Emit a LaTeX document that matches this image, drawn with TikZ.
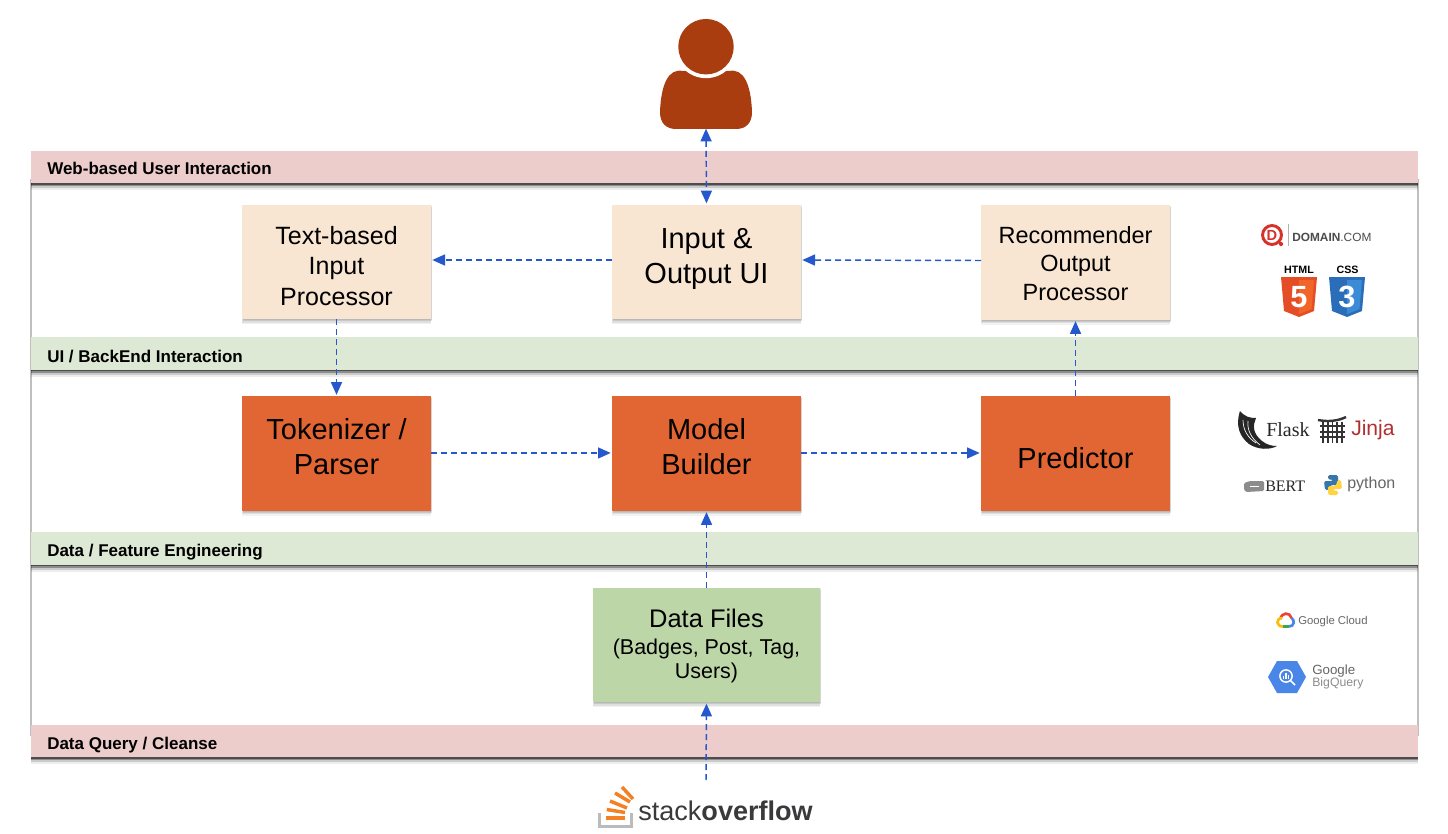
\documentclass[tikz,border=0pt]{standalone}
\usepackage{fontspec}
\setmainfont{Liberation Sans}
\newfontfamily\serifface{Liberation Serif}
\usetikzlibrary{arrows.meta}
\definecolor{bandpink}{HTML}{ECCDCB}
\definecolor{bandgreen}{HTML}{DDE8D5}
\definecolor{beige}{HTML}{F9E6D2}
\definecolor{orangebox}{HTML}{E26633}
\definecolor{datagreen}{HTML}{BDD6A8}
\definecolor{userbrown}{HTML}{A93D10}
\definecolor{flow}{HTML}{2458CC}
\definecolor{logogray}{HTML}{666666}
\definecolor{sooverflow}{HTML}{F48024}
\definecolor{gblue}{HTML}{4A86E8}
\definecolor{domred}{HTML}{D5322C}
\definecolor{htmla}{HTML}{E44D26}
\definecolor{htmlb}{HTML}{F16529}
\definecolor{cssa}{HTML}{2A6DB8}
\definecolor{cssb}{HTML}{3B8BD6}
\definecolor{jinjared}{HTML}{B03030}
\definecolor{pyblue}{HTML}{3776AB}
\definecolor{pyyellow}{HTML}{FFD343}
\definecolor{gred}{HTML}{EA4335}
\definecolor{ggreen}{HTML}{34A853}
\definecolor{gyellow}{HTML}{FBBC05}
\definecolor{sogray}{HTML}{BCBBBB}
\definecolor{sodark}{HTML}{3A3A3C}
\newcommand\boxlines[2]{\raisebox{#1}[0pt][0pt]{\begin{tabular}{@{}c@{}}#2\end{tabular}}}
\tikzset{
  x=0.75pt,y=-0.75pt,
  softbox/.style={inner sep=0pt,outer sep=0pt,text=black,
    preaction={fill=black,opacity=.07,transform canvas={xshift=.5pt,yshift=-.5pt}},
    preaction={fill=black,opacity=.10,transform canvas={xshift=.5pt,yshift=-1.5pt}},
    preaction={fill=black,opacity=.08,transform canvas={xshift=.3pt,yshift=-2.5pt}},
    preaction={fill=black,opacity=.05,transform canvas={yshift=-3.5pt}}},
  stdbox/.style={softbox,minimum width=141.75pt,minimum height=86pt},
  lightbox/.style={stdbox,fill=beige},
  hotbox/.style={stdbox,fill=orangebox},
  band/.style={inner sep=0pt,outer sep=0pt,minimum width=1040.25pt,minimum height=24.4pt,
    preaction={fill=black,opacity=.45,transform canvas={yshift=-1.2pt}},
    preaction={fill=black,opacity=.30,transform canvas={yshift=-2.4pt}},
    preaction={fill=black,opacity=.14,transform canvas={yshift=-3.8pt}},
    preaction={fill=black,opacity=.07,transform canvas={yshift=-5.4pt}}},
  bandtext/.style={inner sep=0pt,anchor=base west,font=\fontsize{12.75}{15}\selectfont\bfseries},
  link/.style={draw=flow,line width=1.1pt,dash pattern=on 4.5pt off 3pt,
    -{Triangle[width=8.25pt,length=9.5pt]},shorten >=1pt},
  logotext/.style={inner sep=0pt,anchor=west,text=logogray},
  fs25/.style={font=\fontsize{18.75}{22.9}\selectfont},
  fs29/.style={font=\fontsize{21.75}{26}\selectfont},
  fs23/.style={font=\fontsize{17.6}{21.4}\selectfont},
  sobar/.style={draw=sooverflow,line width=2.6pt},
}
\begin{document}
\begin{tikzpicture}
\useasboundingbox (0,0) rectangle (1448,834);
\fill[white] (0,0) rectangle (1448,834);
% panel
\node[draw=black!25,line width=1.4pt,fill=white,inner sep=0pt,minimum width=1040.25pt,minimum height=416.25pt] (panel) at (724.5,457.5) {};
% bands
\node[band,fill=bandpink] (b1) at (724.5,167) {};
\node[band,fill=bandgreen] (b2) at (724.5,353.5) {};
\node[band,fill=bandgreen] (b3) at (724.5,548.5) {};
\node[band,fill=bandpink] (b4) at (724.5,741) {};
\node[bandtext] (t1) at (47,174.5) {Web-based User Interaction};
\node[bandtext] (t2) at (47,362.5) {UI / BackEnd Interaction};
\node[bandtext] (t3) at (47,556.5) {Data / Feature Engineering};
\node[bandtext] (t4) at (47,749.5) {Data Query / Cleanse};
% user
\node[inner sep=0pt,outer sep=0pt,minimum width=69pt,minimum height=82pt] (user) at (706,74) {};
\fill[userbrown] (683,71) .. controls (668,68) and (661,85) .. (660,112)
  .. controls (660,123) and (666,129) .. (676,129) -- (736,129)
  .. controls (746,129) and (752,123) .. (752,112)
  .. controls (751,85) and (744,68) .. (729,71) -- cycle;
\fill[white] (706,46.7) circle[radius=23.6pt];
\fill[userbrown] (706,46.7) circle[radius=20.8pt];
% boxes
\node[lightbox,fs25] (textin) at (336.5,262) {\boxlines{-9.2pt}{Text-based\\Input\\Processor}};
\node[lightbox,fs29] (io) at (706.5,262) {\boxlines{-2.8pt}{Input \&\\Output UI}};
\node[lightbox,fs23] (recout) at (1075.5,262.5) {\boxlines{-7.1pt}{Recommender\\Output\\Processor}};
\node[hotbox,fs29] (token) at (336.5,453.5) {\boxlines{-2.45pt}{Tokenizer /\\Parser}};
\node[hotbox,fs29] (model) at (706.5,453.5) {\boxlines{-2.45pt}{Model\\Builder}};
\node[hotbox,fs29] (pred) at (1075.5,453.5) {\boxlines{-11.1pt}{Predictor}};
\node[softbox,fill=datagreen,minimum width=170.25pt,minimum height=86pt,font=\fontsize{16.1}{18}\selectfont] (data) at (706.5,645)
  {\boxlines{-6.3pt}{{\fontsize{19.1}{22}\selectfont Data Files}\\[2.5pt](Badges, Post, Tag,\\Users)}};
% connectors
\coordinate (sotop) at (706,780);
\draw[link,{Triangle[width=8.25pt,length=9.5pt]}-{Triangle[width=8.25pt,length=9.5pt]}] (user.south) -- (io.north);
\draw[link] ([yshift=1.5pt]io.west) -- ([yshift=1.5pt]textin.east);
\draw[link] ([yshift=1.5pt]recout.west) -- ([yshift=1.5pt]io.east);
\draw[link] (textin.south) -- (token.north);
\draw[link] (pred.north) -- (recout.south);
\draw[link] ([yshift=.4pt]token.east) -- ([yshift=.4pt]model.west);
\draw[link] ([yshift=.4pt]model.east) -- ([yshift=.4pt]pred.west);
\draw[link] (data.north) -- (model.south);
\draw[link] (sotop) -- (data.south);
% Domain.com
\draw[domred,line width=2.2pt] (1272,235) circle[radius=7.1pt];
\fill[domred] (1281,244) circle[radius=1.6pt];
\node[inner sep=0pt,text=domred,font=\fontsize{11}{11}\selectfont\bfseries] (domd) at (1272,235.5) {D};
\draw[black!30,line width=0.7pt] (1288,224) -- (1288,246);
\node[logotext,text=black!70,font=\fontsize{8.9}{10}\selectfont] (domt) at (1292,237) {\textbf{DOMAIN}.COM};
% HTML5
\node[inner sep=0pt,font=\fontsize{8}{8}\selectfont\bfseries] (htmlt) at (1299,270) {HTML};
\fill[htmla] (1281,277) -- (1317,277) -- (1314,311) -- (1299,317) -- (1284,311) -- cycle;
\fill[htmlb] (1299,280) -- (1314,280) -- (1311.5,309) -- (1299,314) -- cycle;
\node[inner sep=0pt,text=white,font=\fontsize{23}{23}\selectfont\bfseries] (html5) at (1299,297) {5};
% CSS3
\node[inner sep=0pt,font=\fontsize{8}{8}\selectfont\bfseries] (csst) at (1347.5,270) {CSS};
\fill[cssa] (1329,277) -- (1365,277) -- (1362,311) -- (1347,317) -- (1332,311) -- cycle;
\fill[cssb] (1347,280) -- (1362,280) -- (1359.5,309) -- (1347,314) -- cycle;
\node[inner sep=0pt,text=white,font=\fontsize{23}{23}\selectfont\bfseries] (css3) at (1347,297) {3};
% Flask
\fill[black!85] (1240,411) .. controls (1245,417) and (1250,418) .. (1256,418)
  .. controls (1253,425) and (1252,433) .. (1262,441)
  .. controls (1267,445) and (1272,446) .. (1277,446)
  .. controls (1270,450) and (1258,450) .. (1249,444)
  .. controls (1240,437) and (1235,426) .. (1240,411) -- cycle;
\draw[white,line width=0.5pt] (1243,420) .. controls (1243,430) and (1248,438) .. (1256,443);
\draw[white,line width=0.5pt] (1248,421) .. controls (1247,430) and (1251,438) .. (1260,445);
\node[logotext,text=black!85,font=\serifface\fontsize{15}{15}\selectfont] (flask) at (1266,430) {Flask};
% Jinja
\draw[black!80,line width=1.8pt] (1318,420) .. controls (1328,422) and (1338,421) .. (1346,417);
\draw[black!80,line width=1.4pt] (1320,426) -- (1345,426);
\draw[black!80,line width=1.4pt] (1320,432) -- (1345,432);
\draw[black!80,line width=1.4pt] (1320,437) -- (1345,437);
\foreach \px in {1323,1328,1332.5,1337,1342} \draw[black!80,line width=1.3pt] (\px,422) -- (\px,443);
\node[logotext,text=jinjared,font=\fontsize{15.8}{16}\selectfont] (jinja) at (1351,430) {Jinja};
% BERT
\fill[black!45,rounded corners=1pt] (1244,483) -- (1250,481) -- (1264,481) -- (1264,491) -- (1246,492) -- (1244,490) -- cycle;
\draw[white,line width=0.5pt] (1250,486.5) -- (1259,486.5);
\node[logotext,text=black!85,font=\serifface\fontsize{12}{12}\selectfont] (bert) at (1265,486) {BERT};
% Python
\fill[pyblue,rounded corners=1.2pt] (1328,475) -- (1338,475) -- (1338,485) -- (1331,485) -- (1329,487) -- (1329,490) -- (1325,490) -- (1324,481) -- (1333,481) -- (1333,479.5) -- (1328,479.5) -- cycle;
\fill[pyyellow,rounded corners=1.2pt] (1338,495) -- (1328,495) -- (1328,486) -- (1335,486) -- (1337,484) -- (1337,480) -- (1341,480) -- (1342,489) -- (1333,489) -- (1333,490.5) -- (1338,490.5) -- cycle;
\node[logotext,font=\fontsize{12}{12}\selectfont] (python) at (1347,484) {python};
% Google Cloud
\draw[gred,line width=2pt] (1280.5,619) .. controls (1281.5,612) and (1290,612) .. (1291.5,618);
\draw[gblue,line width=2pt] (1291.5,618) .. controls (1295,620) and (1294.5,626.5) .. (1289,626.5);
\draw[ggreen,line width=2pt] (1289,626.5) -- (1283,626.5);
\draw[gyellow,line width=2pt] (1283,626.5) .. controls (1276,626.5) and (1275.5,618.5) .. (1282,618);
\node[logotext,font=\fontsize{8.5}{9}\selectfont] (gcloud) at (1298,622) {Google Cloud};
% BigQuery
\fill[gblue] (1268,677) -- (1277,661) -- (1297,661) -- (1306,677) -- (1297,693) -- (1277,693) -- cycle;
\draw[white,line width=1.1pt] (1286,676) circle[radius=4.6pt];
\draw[white,line width=1.3pt] (1290.5,680.5) -- (1295,685);
\draw[white,line width=0.8pt] (1286,673) -- (1286,679) (1283.5,676) -- (1283.5,679) (1288.5,675) -- (1288.5,679);
\node[logotext,font=\fontsize{10}{10}\selectfont] (gbq1) at (1312,671) {Google};
\node[logotext,text=black!45,font=\fontsize{9.2}{10}\selectfont] (gbq2) at (1312,683) {BigQuery};
% Stack Overflow
\draw[sogray,line width=2.6pt] (599.5,813) -- (599.5,826.5) -- (631.5,826.5) -- (631.5,813);
\draw[sobar] (606,818) -- (625,818);
\draw[sobar] (606.7,809.5) -- (625,812.5);
\draw[sobar] (610,801) -- (627,808);
\draw[sobar] (615,793) -- (630,802);
\draw[sobar] (622,787) -- (633,799);
\node[inner sep=0pt,anchor=base west,text=sodark,font=\fontsize{20.3}{21}\selectfont] (so) at (638,820) {stack\textbf{overflow}};
\end{tikzpicture}
\end{document}
